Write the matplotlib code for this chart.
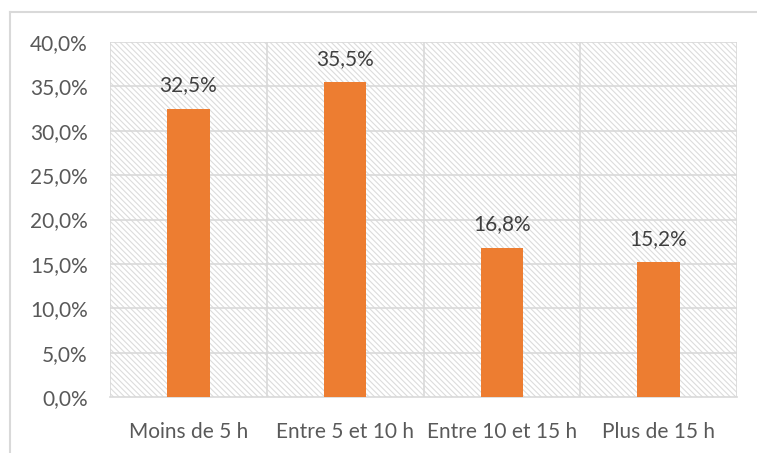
import matplotlib.pyplot as plt
import matplotlib.patches as mpatches
from matplotlib.lines import Line2D
from matplotlib.ticker import FuncFormatter

categories = ["Moins de 5 h", "Entre 5 et 10 h", "Entre 10 et 15 h", "Plus de 15 h"]
values = [32.5, 35.5, 16.8, 15.2]
labels = ["32,5%", "35,5%", "16,8%", "15,2%"]

plt.rcParams["font.family"] = ["Lato", "DejaVu Sans"]
plt.rcParams["hatch.color"] = "#dcdcdc"
plt.rcParams["hatch.linewidth"] = 0.8
text_col = "#595959"
grid_col = "#d9d9d9"

fig = plt.figure(figsize=(7.57, 4.53), dpi=100)
ax = fig.add_axes([110 / 757, 56 / 453, 627 / 757, 355 / 453])

# hatched background of the plot area
bg = mpatches.Rectangle((0, 0), 1, 1, transform=ax.transAxes, facecolor="white",
                        edgecolor="#dcdcdc", hatch="\\" * 6, linewidth=0, zorder=0)
ax.add_patch(bg)

x = range(len(categories))
ax.bar(x, values, width=0.27, color="#ed7d31", zorder=3)
for xi, v, lab in zip(x, values, labels):
    ax.text(xi, v + 1.5, lab, ha="center", va="bottom", fontsize=15, color="#404040", zorder=4)

ax.set_xlim(-0.5, len(categories) - 0.5)
ax.set_ylim(0, 40)
ax.set_yticks(range(0, 41, 5))
ax.yaxis.set_major_formatter(FuncFormatter(lambda v, p: f"{v:.1f}%".replace(".", ",")))
ax.set_xticks(list(x))
ax.set_xticklabels(categories)

# grid: horizontal at ticks, vertical at category boundaries
for yv in range(5, 41, 5):
    ax.axhline(yv, color=grid_col, lw=1.2, zorder=1)
for b in [-0.5, 0.5, 1.5, 2.5, 3.5]:
    ax.axvline(b, color=grid_col, lw=1.2, zorder=1)

for s in ["top", "right", "left"]:
    ax.spines[s].set_visible(False)
ax.spines["bottom"].set_color(grid_col)
ax.spines["bottom"].set_linewidth(1.2)
ax.spines["bottom"].set_zorder(2)
ax.tick_params(axis="both", length=0, labelsize=15, colors=text_col)
ax.tick_params(axis="x", pad=18)
ax.tick_params(axis="y", pad=16)

# outer chart frame (partly cropped)
fig.add_artist(Line2D([10 / 757, 10 / 757], [0, 1 - 12 / 453], color="#d9d9d9", lw=1.5))
fig.add_artist(Line2D([10 / 757, 1], [1 - 12 / 453, 1 - 12 / 453], color="#d9d9d9", lw=1.5))

fig.savefig("out.png", dpi=100)
